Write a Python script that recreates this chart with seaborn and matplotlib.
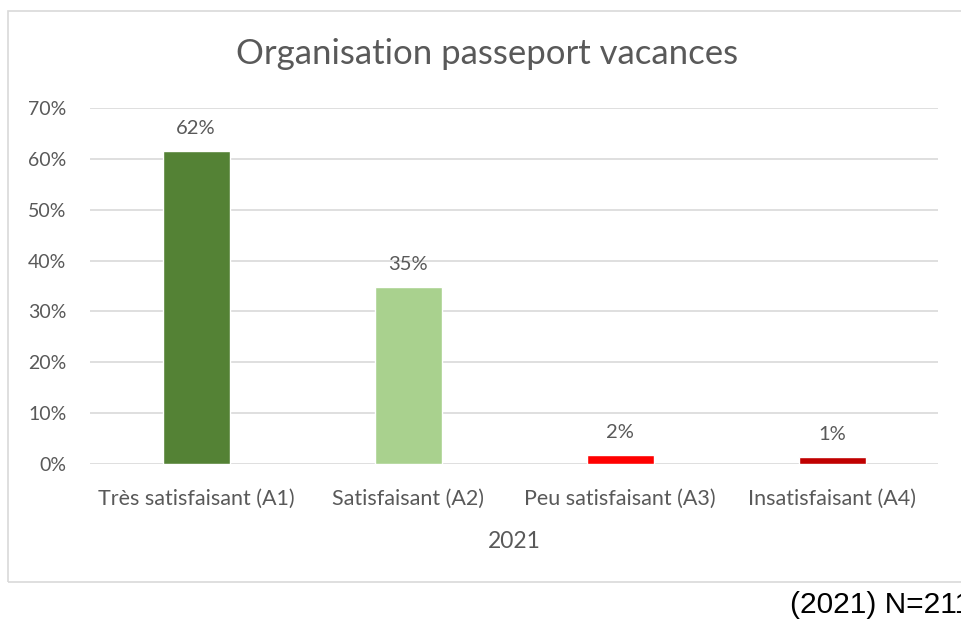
import matplotlib.pyplot as plt
import matplotlib.patches as mpatches
import seaborn as sns
import pandas as pd

# Values
categories = ['Très satisfaisant (A1)', 'Satisfaisant (A2)', 'Peu satisfaisant (A3)', 'Insatisfaisant (A4)']
shares = [0.615, 0.348, 0.018, 0.014]
share_labels = ['62%', '35%', '2%', '1%']
bar_colors = ['#548235', '#A9D18E', '#FF0000', '#C00000']
ytick_values = [0, 0.1, 0.2, 0.3, 0.4, 0.5, 0.6, 0.7]

sns.set_style('white')
plt.rcParams['font.family'] = ['Lato', 'DejaVu Sans']
grey = '#595959'

df = pd.DataFrame({'cat': categories, 'share': shares})

fig = plt.figure(figsize=(9.61, 6.19), dpi=100)
ax = fig.add_axes([0.0937, 0.2504, 0.8824, 0.5751])

sns.barplot(data=df, x='cat', y='share', hue='cat', palette=bar_colors,
            saturation=1, width=0.316, legend=False, ax=ax, zorder=3)

# Labels above the bars
for i, p in enumerate(ax.patches):
    ax.text(p.get_x() + p.get_width() / 2, p.get_height() + 0.028, share_labels[i],
            ha='center', va='bottom', fontsize=14.5, color=grey)

ax.set_ylim(0, 0.7)
ax.set_xlim(-0.5, 3.5)
ax.set_yticks(ytick_values)
ax.set_yticklabels([f'{int(round(v * 100))}%' for v in ytick_values], fontsize=14, color=grey)
ax.tick_params(axis='x', labelsize=15.5, colors=grey, length=0, pad=18)
ax.tick_params(axis='y', length=0, pad=17)
ax.yaxis.grid(True, color='#D9D9D9', linewidth=1.2, zorder=0)
ax.set_axisbelow(True)
for s in ax.spines.values():
    s.set_visible(False)

ax.set_xlabel('2021', fontsize=16.5, color=grey, labelpad=16)
ax.set_ylabel('')

fig.text(0.507, 0.912, 'Organisation passeport vacances', ha='center', va='center',
         fontsize=25, color=grey)

# Chart frame
frame = mpatches.Rectangle((8 / 961, 1 - 582 / 619), 1.0, (582 - 11) / 619,
                           transform=fig.transFigure, fill=False,
                           edgecolor='#D9D9D9', linewidth=1.2)
fig.patches.append(frame)

fig.text(790 / 961, 1 - 605 / 619, '(2021) N=211', ha='left', va='center',
         fontsize=21.5, color='black', family='Liberation Sans')

fig.savefig('out.png', dpi=100)
